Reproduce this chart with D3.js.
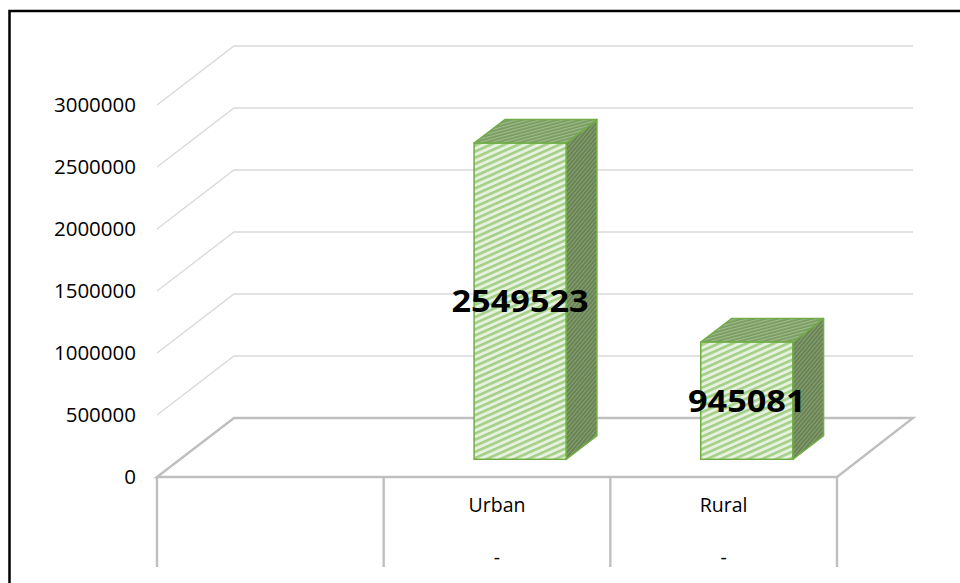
<!DOCTYPE html>
<html>
<head>
<meta charset="utf-8">
<script src="https://cdn.jsdelivr.net/npm/d3@7"></script>
<style>
	body { margin: 0; background: #fff; }
	svg { display: block; }
</style>
</head>
<body>
<div id="chart"></div>
<script>
var categories = ['', 'Urban', 'Rural']
var values = [null, 2549523, 945081]
var subLabels = ['', '-', '-']
var yTicks = [0, 500000, 1000000, 1500000, 2000000, 2500000, 3000000]

function createChart() {
	let width = 960
	let height = 583

	// floor / box geometry (front plane + depth offset)
	let frontLeft = 157
	let frontRight = 837
	let floorY = 477
	let depthX = 77
	let depthY = 59
	// bars sit in the middle of the depth
	let f1 = 0.3
	let f2 = 0.7

	const svg = d3.select('#chart').append('svg')
		.attr('width', width)
		.attr('height', height)

	// hatch patterns
	const defs = svg.append('defs')

	let front = defs.append('pattern')
		.attr('id', 'hatchFront')
		.attr('patternUnits', 'userSpaceOnUse')
		.attr('width', 8).attr('height', 5.6)
		.attr('patternTransform', 'rotate(-24)')
	front.append('rect').attr('width', 8).attr('height', 5.6).attr('fill', '#e6f2de')
	front.append('rect').attr('width', 8).attr('height', 2.6).attr('fill', '#a3cf86')

	let side = defs.append('pattern')
		.attr('id', 'hatchSide')
		.attr('patternUnits', 'userSpaceOnUse')
		.attr('width', 3).attr('height', 3)
		.attr('patternTransform', 'rotate(-50)')
	side.append('rect').attr('width', 3).attr('height', 3).attr('fill', '#66814f')
	side.append('rect').attr('width', 3).attr('height', 1.2).attr('fill', '#889f76')

	let top = defs.append('pattern')
		.attr('id', 'hatchTop')
		.attr('patternUnits', 'userSpaceOnUse')
		.attr('width', 3).attr('height', 3)
		.attr('patternTransform', 'rotate(-15)')
	top.append('rect').attr('width', 3).attr('height', 3).attr('fill', '#779a5f')
	top.append('rect').attr('width', 3).attr('height', 1.3).attr('fill', '#9fbb89')

	// scales
	var x = d3.scaleBand()
		.domain(categories)
		.range([frontLeft, frontRight])
		.padding(0)

	var y = d3.scaleLinear()
		.domain([0, 3000000])
		.range([floorY, floorY - 372])

	// outer border
	svg.append('rect')
		.attr('x', 9.5)
		.attr('y', 11)
		.attr('width', 1000)
		.attr('height', 1000)
		.attr('fill', 'none')
		.attr('stroke', '#000')
		.attr('stroke-width', 2.5)

	// gridlines: side wall diagonal + back wall horizontal
	svg.append('g')
		.selectAll('path')
		.data(yTicks.filter(d => d > 0))
		.enter()
		.append('path')
		.attr('d', d => `M${frontLeft},${y(d)}L${frontLeft + depthX},${y(d) - depthY}L${frontRight + depthX - 1},${y(d) - depthY}`)
		.attr('fill', 'none')
		.attr('stroke', '#d9d9d9')
		.attr('stroke-width', 1.3)

	// floor
	svg.append('path')
		.attr('d', `M${frontLeft},${floorY}L${frontLeft + depthX},${floorY - depthY}L${frontRight + depthX - 1},${floorY - depthY}L${frontRight},${floorY}Z`)
		.attr('fill', 'none')
		.attr('stroke', '#bfbfbf')
		.attr('stroke-width', 2.4)

	// category dividers under the floor
	let dividers = categories.map(c => x(c)).concat([frontRight])
	svg.append('g')
		.selectAll('line')
		.data(dividers)
		.enter()
		.append('line')
		.attr('x1', d => d).attr('x2', d => d)
		.attr('y1', floorY).attr('y2', 567)
		.attr('stroke', '#bfbfbf')
		.attr('stroke-width', 2.4)

	// y labels
	svg.append('g')
		.selectAll('text')
		.data(yTicks)
		.enter()
		.append('text')
		.attr('x', 136)
		.attr('y', d => y(d))
		.attr('dy', '0.35em')
		.attr('text-anchor', 'end')
		.attr('font-family', 'Open Sans, sans-serif')
		.attr('font-size', 20.5)
		.attr('fill', '#000')
		.text(d => d)

	// category labels
	svg.append('g')
		.selectAll('text')
		.data(categories)
		.enter()
		.append('text')
		.attr('x', d => x(d) + x.bandwidth() / 2)
		.attr('y', 505)
		.attr('dy', '0.35em')
		.attr('text-anchor', 'middle')
		.attr('font-family', 'Open Sans, sans-serif')
		.attr('font-size', 19.5)
		.text(d => d)

	svg.append('g')
		.selectAll('text')
		.data(subLabels)
		.enter()
		.append('text')
		.attr('x', (d, i) => x(categories[i]) + x.bandwidth() / 2)
		.attr('y', 557)
		.attr('dy', '0.35em')
		.attr('text-anchor', 'middle')
		.attr('font-family', 'Open Sans, sans-serif')
		.attr('font-size', 19.5)
		.text(d => d)

	// bars
	var bars = categories.map((c, i) => {
		if (values[i] == null) return null
		let w = x.bandwidth() * 0.406
		let cx = x(c) + x.bandwidth() / 2 + f1 * depthX
		let yb = floorY - f1 * depthY
		let yt = yb - (floorY - y(values[i]))
		return {
			value: values[i],
			x0: cx - w / 2,
			x1: cx + w / 2,
			yb: yb,
			yt: yt,
			ddx: (f2 - f1) * depthX,
			ddy: (f2 - f1) * depthY
		}
	}).filter(d => d)

	let node = svg.selectAll('g.bar')
		.data(bars)
		.enter()
		.append('g')
		.attr('class', 'bar')

	node.append('path')
		.attr('d', d => `M${d.x1},${d.yb}L${d.x1},${d.yt}L${d.x1 + d.ddx},${d.yt - d.ddy}L${d.x1 + d.ddx},${d.yb - d.ddy}Z`)
		.attr('fill', 'url(#hatchSide)')
		.attr('stroke', '#70ad47')
		.attr('stroke-width', 1.5)
		.attr('stroke-linejoin', 'round')

	node.append('path')
		.attr('d', d => `M${d.x0},${d.yt}L${d.x1},${d.yt}L${d.x1 + d.ddx},${d.yt - d.ddy}L${d.x0 + d.ddx},${d.yt - d.ddy}Z`)
		.attr('fill', 'url(#hatchTop)')
		.attr('stroke', '#70ad47')
		.attr('stroke-width', 1.5)
		.attr('stroke-linejoin', 'round')

	node.append('rect')
		.attr('x', d => d.x0)
		.attr('y', d => d.yt)
		.attr('width', d => d.x1 - d.x0)
		.attr('height', d => d.yb - d.yt)
		.attr('fill', 'url(#hatchFront)')
		.attr('stroke', '#70ad47')
		.attr('stroke-width', 1.5)

	// value labels
	node.append('text')
		.attr('x', d => (d.x0 + d.x1) / 2)
		.attr('y', d => (d.yt + d.yb) / 2)
		.attr('dy', '0.36em')
		.attr('text-anchor', 'middle')
		.attr('font-family', 'Open Sans, sans-serif')
		.attr('font-weight', 'bold')
		.attr('font-size', 31)
		.attr('textLength', d => String(d.value).length * 19.6)
		.attr('lengthAdjust', 'spacingAndGlyphs')
		.attr('fill', '#000')
		.text(d => d.value)
}

createChart()
</script>
</body>
</html>
